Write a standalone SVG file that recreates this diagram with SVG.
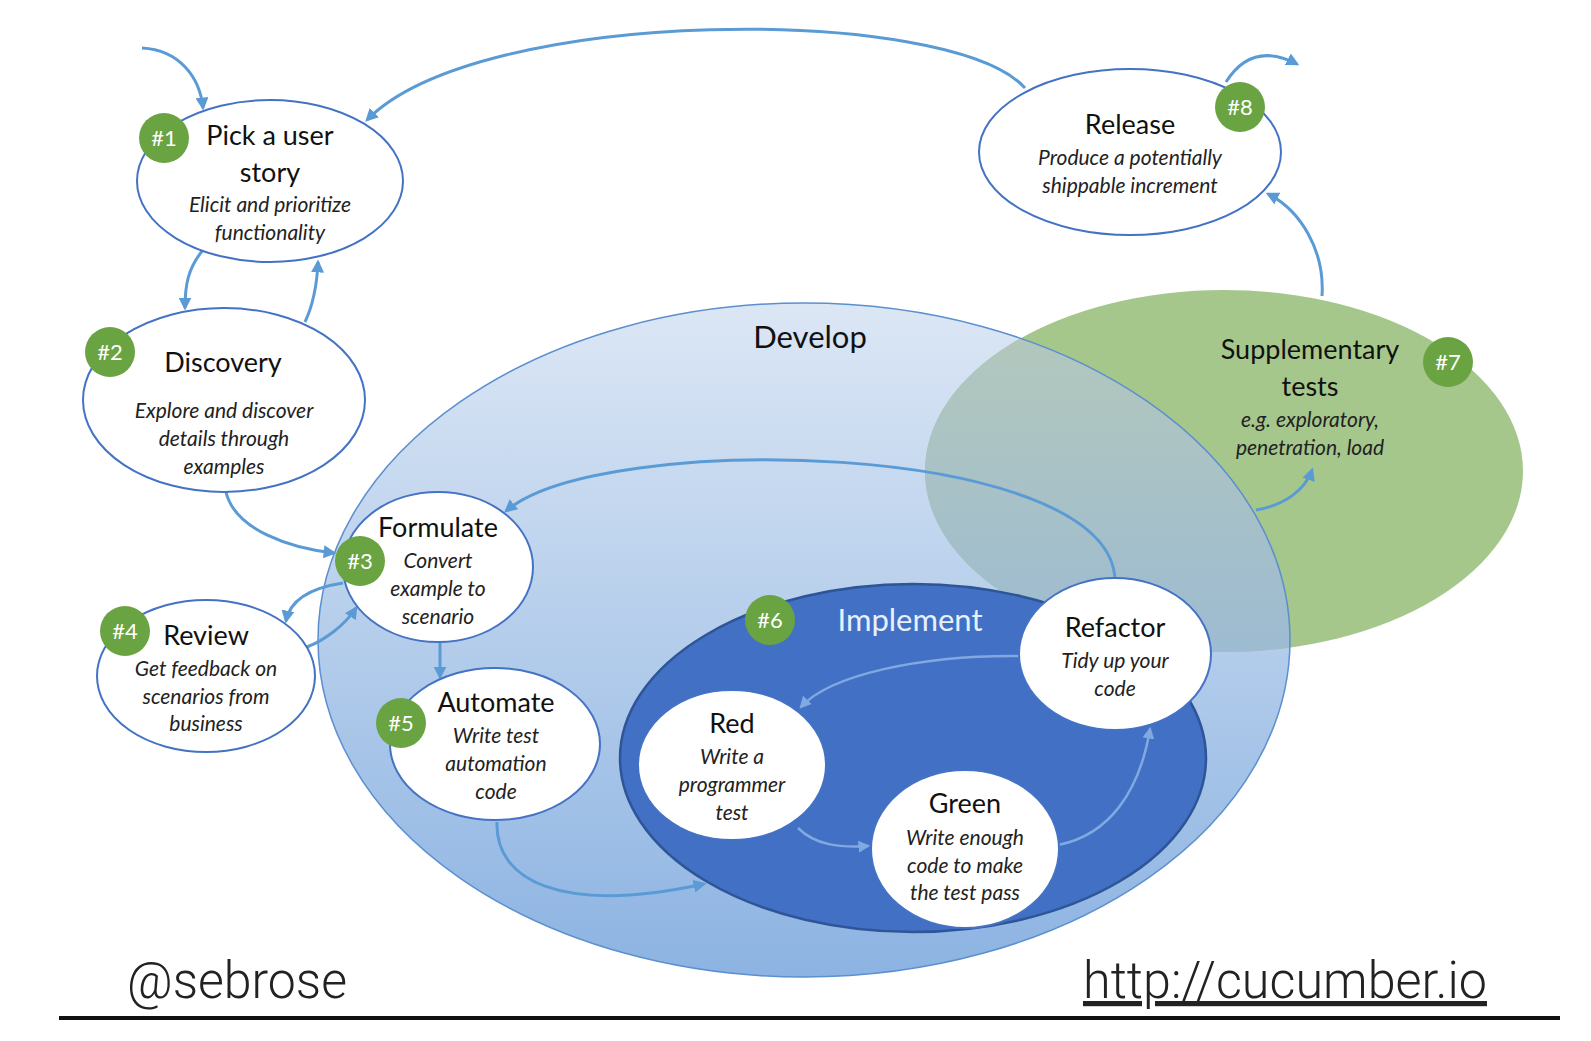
<svg xmlns="http://www.w3.org/2000/svg" width="1591" height="1041" viewBox="0 0 1591 1041">
<defs>
<style>
.node{fill:#fff;stroke:#4472c4;stroke-width:2}
.badge circle{fill:#6aa342}
.badge text{fill:#fff;font-family:Lato,"Open Sans",sans-serif;font-size:22px;text-anchor:middle}
.t{font-family:Lato,"Open Sans",sans-serif;font-size:27px;fill:#111;text-anchor:middle}
.s{font-family:Lato,"Open Sans",sans-serif;font-size:21px;font-style:italic;fill:#222;text-anchor:middle}
.c{fill:none;stroke:#5b9bd5;stroke-width:3}
.ci{fill:none;stroke:#7fa9e0;stroke-width:2.5}
</style>
<marker id="ah" viewBox="0 0 10 10" refX="8" refY="5" markerWidth="13" markerHeight="13" markerUnits="userSpaceOnUse" orient="auto"><path d="M0,0 L10,5 L0,10 z" fill="#5b9bd5"/></marker>
<marker id="ahi" viewBox="0 0 10 10" refX="8" refY="5" markerWidth="12" markerHeight="12" markerUnits="userSpaceOnUse" orient="auto"><path d="M0,0 L10,5 L0,10 z" fill="#7fa9e0"/></marker>
<linearGradient id="devg" x1="0" y1="0" x2="0" y2="1">
<stop offset="0" stop-color="#dce7f5"/>
<stop offset="0.5" stop-color="#b4cdeb"/>
<stop offset="1" stop-color="#8cb3e2"/>
</linearGradient>
<linearGradient id="ovg" x1="0" y1="0" x2="0" y2="1">
<stop offset="0" stop-color="#b5c9b9"/>
<stop offset="1" stop-color="#9dbbd2"/>
</linearGradient>
<clipPath id="devclip"><ellipse cx="804" cy="640" rx="486" ry="337"/></clipPath>
</defs>
<rect width="1591" height="1041" fill="#fff"/>

<g id="develop">
<ellipse cx="804" cy="640" rx="486" ry="337" fill="url(#devg)"/>
</g>
<g id="supplementary">
<ellipse cx="1224" cy="471" rx="299" ry="181" fill="#a5c78c"/>
<ellipse cx="1224" cy="471" rx="299" ry="181" fill="url(#ovg)" clip-path="url(#devclip)"/>
<ellipse cx="804" cy="640" rx="486" ry="337" fill="none" stroke="#5b8fd0" stroke-width="1.5"/>
<text class="t" x="1310" y="359">Supplementary</text>
<text class="t" x="1310" y="396">tests</text>
<text class="s" x="1310" y="427">e.g. exploratory,</text>
<text class="s" x="1310" y="455">penetration, load</text>
<g class="badge"><circle cx="1448" cy="362" r="25"/><text x="1448" y="370">#7</text></g>
</g>
<text class="t" x="810" y="348" style="font-size:31px">Develop</text>

<g id="implement">
<ellipse cx="913" cy="758" rx="293" ry="174" fill="#4170c4" stroke="#2d5597" stroke-width="2.5"/>
<text class="t" x="910" y="631" style="font-size:31px;fill:#e8f0fb">Implement</text>
<g class="badge"><circle cx="770" cy="620" r="25"/><text x="770" y="628">#6</text></g>
</g>

<g id="connectors">
<path class="c" d="M142,48 C180,50 200,78 203,108" marker-end="url(#ah)"/>
<path class="c" d="M1025,88 C950,5 480,5 367,120" marker-end="url(#ah)"/>
<path class="c" d="M1226,82 C1245,52 1270,50 1297,64" marker-end="url(#ah)"/>
<path class="c" d="M203,250 C188,268 185,285 185,308" marker-end="url(#ah)"/>
<path class="c" d="M305,322 C313,305 317,285 318,262" marker-end="url(#ah)"/>
<path class="c" d="M226,492 C235,530 290,548 334,553" marker-end="url(#ah)"/>
<path class="c" d="M343,583 C310,588 290,600 286,621" marker-end="url(#ah)"/>
<path class="c" d="M307,647 C325,640 345,625 356,608" marker-end="url(#ah)"/>
<path class="c" d="M440,643 L440,677" marker-end="url(#ah)"/>
<path class="c" d="M497,822 C495,880 560,915 704,884" marker-end="url(#ah)"/>
<path class="c" d="M1115,578 C1105,440 600,430 506,511" marker-end="url(#ah)"/>
<path class="c" d="M1256,510 C1285,505 1305,490 1312,470" marker-end="url(#ah)"/>
<path class="c" d="M1322,296 C1325,250 1300,210 1268,194" marker-end="url(#ah)"/>
<path class="ci" d="M1020,656 C920,655 830,675 801,707" marker-end="url(#ahi)"/>
<path class="ci" d="M798,828 C815,845 840,848 868,846" marker-end="url(#ahi)"/>
<path class="ci" d="M1058,845 C1110,835 1140,790 1150,729" marker-end="url(#ahi)"/>
</g>

<g id="n1">
<ellipse class="node" cx="270" cy="181" rx="133" ry="81"/>
<text class="t" x="270" y="145">Pick a user</text>
<text class="t" x="270" y="182">story</text>
<text class="s" x="270" y="212">Elicit and prioritize</text>
<text class="s" x="270" y="240">functionality</text>
<g class="badge"><circle cx="164" cy="138" r="25"/><text x="164" y="146">#1</text></g>
</g>
<g id="n2">
<ellipse class="node" cx="224" cy="400" rx="141" ry="92"/>
<text class="t" x="223" y="372">Discovery</text>
<text class="s" x="224" y="418">Explore and discover</text>
<text class="s" x="224" y="446">details through</text>
<text class="s" x="224" y="474">examples</text>
<g class="badge"><circle cx="110" cy="352" r="25"/><text x="110" y="360">#2</text></g>
</g>
<g id="n3">
<ellipse class="node" cx="438" cy="567" rx="95" ry="75"/>
<text class="t" x="438" y="537">Formulate</text>
<text class="s" x="438" y="568">Convert</text>
<text class="s" x="438" y="596">example to</text>
<text class="s" x="438" y="624">scenario</text>
<g class="badge"><circle cx="360" cy="561" r="25"/><text x="360" y="569">#3</text></g>
</g>
<g id="n4">
<ellipse class="node" cx="206" cy="676" rx="109" ry="76"/>
<text class="t" x="206" y="645">Review</text>
<text class="s" x="206" y="676">Get feedback on</text>
<text class="s" x="206" y="704">scenarios from</text>
<text class="s" x="206" y="731">business</text>
<g class="badge"><circle cx="125" cy="631" r="25"/><text x="125" y="639">#4</text></g>
</g>
<g id="n5">
<ellipse class="node" cx="495" cy="744" rx="105" ry="76"/>
<text class="t" x="496" y="712">Automate</text>
<text class="s" x="496" y="743">Write test</text>
<text class="s" x="496" y="771">automation</text>
<text class="s" x="496" y="799">code</text>
<g class="badge"><circle cx="401" cy="723" r="25"/><text x="401" y="731">#5</text></g>
</g>
<g id="red">
<ellipse class="node" cx="732" cy="765" rx="94" ry="75"/>
<text class="t" x="732" y="733">Red</text>
<text class="s" x="732" y="764">Write a</text>
<text class="s" x="732" y="792">programmer</text>
<text class="s" x="732" y="820">test</text>
</g>
<g id="green">
<ellipse class="node" cx="965" cy="849" rx="94" ry="79"/>
<text class="t" x="965" y="813">Green</text>
<text class="s" x="965" y="845">Write enough</text>
<text class="s" x="965" y="873">code to make</text>
<text class="s" x="965" y="900">the test pass</text>
</g>
<g id="refactor">
<ellipse class="node" cx="1115" cy="654" rx="96" ry="76"/>
<text class="t" x="1115" y="637">Refactor</text>
<text class="s" x="1115" y="668">Tidy up your</text>
<text class="s" x="1115" y="696">code</text>
</g>
<g id="n8">
<ellipse class="node" cx="1130" cy="152" rx="151" ry="83"/>
<text class="t" x="1130" y="134">Release</text>
<text class="s" x="1130" y="165">Produce a potentially</text>
<text class="s" x="1130" y="193">shippable increment</text>
<g class="badge"><circle cx="1240" cy="107" r="25"/><text x="1240" y="115">#8</text></g>
</g>

<g id="footer">
<text x="127" y="998" font-family="Roboto,sans-serif" font-weight="300" font-size="52" fill="#222" textLength="220" lengthAdjust="spacingAndGlyphs">@sebrose</text>
<text x="1083" y="998" font-family="Roboto,sans-serif" font-weight="300" font-size="52" fill="#222" textLength="404" lengthAdjust="spacingAndGlyphs" text-decoration="underline">http://cucumber.io</text>
<line x1="59" y1="1018" x2="1560" y2="1018" stroke="#111" stroke-width="4"/>
</g>
</svg>
